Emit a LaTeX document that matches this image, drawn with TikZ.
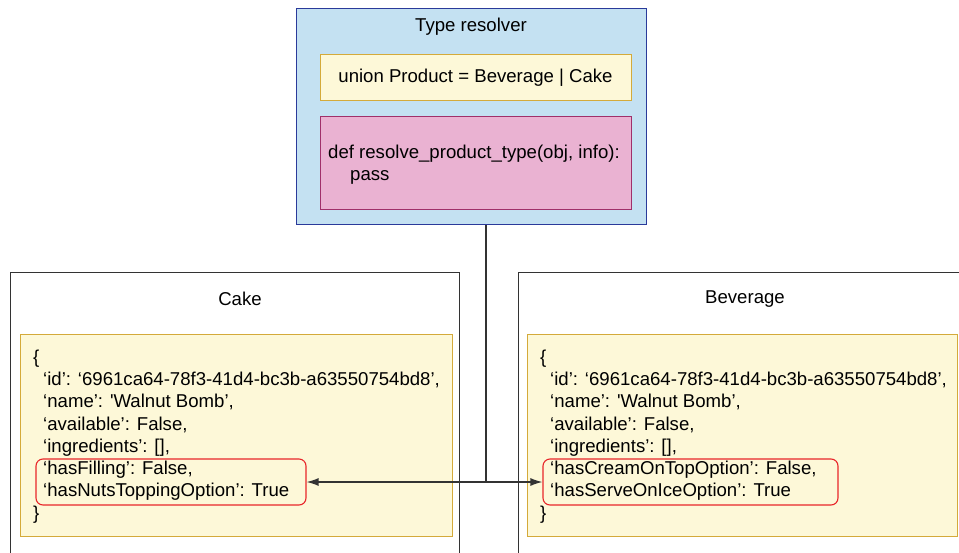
\documentclass[tikz,border=0pt]{standalone}
\usepackage{fontspec}
\setmainfont{Liberation Sans}[Ligatures=TeXOff]
\usetikzlibrary{arrows.meta}
\definecolor{bluefill}{HTML}{C4E1F2}
\definecolor{blueline}{HTML}{2A3A9A}
\definecolor{yelfill}{HTML}{FDF8D8}
\definecolor{yelline}{HTML}{D4AA3A}
\definecolor{pinkfill}{HTML}{EAB2D2}
\definecolor{pinkline}{HTML}{A0306A}
\definecolor{redline}{HTML}{E8262A}
\definecolor{darkline}{HTML}{333333}
\tikzset{
  box/.style={draw, line width=1.4pt, anchor=north west, inner sep=0pt},
  lbl/.style={font=\fontsize{18.6}{22.2}\selectfont, inner sep=0pt, text=black},
  json/.style={font=\fontsize{18.6}{22.3}\selectfont, inner sep=0pt, align=left, anchor=north west, text=black},
  hl/.style={draw=redline, line width=1.1pt, rounded corners=7pt, inner sep=0pt},
  conn/.style={draw=darkline, line width=1.4pt},
  tip/.style={-{Latex[length=12pt,width=8pt]}}
}
\begin{document}
\begin{tikzpicture}[x=1pt,y=-1pt]
\clip (0,0) rectangle (959,552);
\useasboundingbox (0,0) rectangle (959,552);
\fill[white] (0,0) rectangle (959,552);
% Type resolver
\node[box, draw=blueline, fill=bluefill, minimum width=350pt, minimum height=216pt] (resolver) at (296,8) {};
\node[lbl] (restitle) at (471,27) {Type resolver};
\node[box, draw=yelline, fill=yelfill, minimum width=311pt, minimum height=46pt] (union) at (320,54) {};
\node[lbl] (uniontext) at (475.5,78) {union Product = Beverage | Cake};
\node[box, draw=pinkline, fill=pinkfill, minimum width=311pt, minimum height=93pt] (resolvefn) at (320,116) {};
\node[json, font=\fontsize{18.6}{21.5}\selectfont] (fntext) at (328,145) {def resolve\_product\_type(obj, info):\\\hspace*{22pt}pass};
% Cake
\node[box, draw=darkline, fill=white, minimum width=449pt, minimum height=300pt] (cake) at (10,272) {};
\node[lbl] (caketitle) at (240,299) {Cake};
\node[box, draw=yelline, fill=yelfill, minimum width=432pt, minimum height=202pt] (cakedata) at (20,334) {};
\node[json] (cakejson) at (33,349.5) {\{\\
\hspace*{10pt}‘id’: ‘6961ca64-78f3-41d4-bc3b-a63550754bd8’,\\
\hspace*{10pt}‘name’: 'Walnut Bomb’,\\
\hspace*{10pt}‘available’: False,\\
\hspace*{10pt}‘ingredients’: [],\\
\hspace*{10pt}‘hasFilling’: False,\\
\hspace*{10pt}‘hasNutsToppingOption’: True\\
\}};
\node[hl, minimum width=270pt, minimum height=46pt] (cakehl) at (171,482) {};
% Beverage
\node[box, draw=darkline, fill=white, minimum width=460pt, minimum height=300pt] (bev) at (518,272) {};
\node[lbl] (bevtitle) at (745,299) {Beverage};
\node[box, draw=yelline, fill=yelfill, minimum width=430pt, minimum height=202pt] (bevdata) at (527,334) {};
\node[json] (bevjson) at (540,349.5) {\{\\
\hspace*{10pt}‘id’: ‘6961ca64-78f3-41d4-bc3b-a63550754bd8’,\\
\hspace*{10pt}‘name’: 'Walnut Bomb’,\\
\hspace*{10pt}‘available’: False,\\
\hspace*{10pt}‘ingredients’: [],\\
\hspace*{10pt}‘hasCreamOnTopOption’: False,\\
\hspace*{10pt}‘hasServeOnIceOption’: True\\
\}};
\node[hl, minimum width=295pt, minimum height=46pt] (bevhl) at (690.5,482) {};
% connectors
\coordinate (junction) at (486,482);
\draw[conn] (resolver.south -| junction) -- (junction);
\draw[conn, tip] (junction) -- (cakehl.east);
\draw[conn, tip] (junction) -- (bevhl.west);
\end{tikzpicture}
\end{document}
